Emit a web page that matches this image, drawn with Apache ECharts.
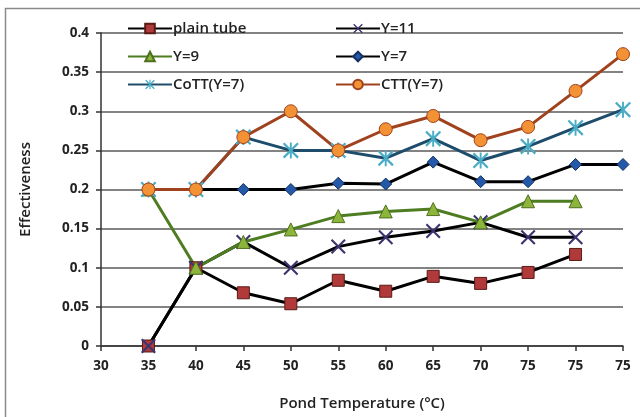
<!DOCTYPE html>
<html><head><meta charset="utf-8">
<script src="https://cdn.jsdelivr.net/npm/echarts@6/dist/echarts.min.js"></script>
<style>html,body{margin:0;padding:0;background:#fff}#c{width:640px;height:417px}</style>
</head><body><div id="c"></div>
<script>
const categories = ['30','35','40','45','50','55','60','65','70','75','75','75'];
const plainTube = [null, 0, 0.1, 0.068, 0.054, 0.084, 0.07, 0.089, 0.08, 0.094, 0.117, null];
const y11 = [null, 0, 0.1, 0.133, 0.1, 0.127, 0.139, 0.147, 0.158, 0.139, 0.139, null];
const y9 = [null, 0.2, 0.1, 0.133, 0.149, 0.166, 0.172, 0.175, 0.158, 0.185, 0.185, null];
const y7 = [null, 0.2, 0.2, 0.2, 0.2, 0.208, 0.207, 0.235, 0.21, 0.21, 0.232, 0.232];
const cott = [null, 0.2, 0.2, 0.267, 0.25, 0.25, 0.24, 0.265, 0.237, 0.255, 0.279, 0.302];
const ctt = [null, 0.2, 0.2, 0.267, 0.3, 0.25, 0.277, 0.294, 0.263, 0.28, 0.326, 0.373];
const yTicks = {min: 0, max: 0.4, interval: 0.05};

const X_PATH = 'path://M0,1L1,0L10,9L9,10ZM9,0L10,1L1,10L0,9Z';
const AST_PATH = 'path://M0,1L1,0L10,9L9,10ZM9,0L10,1L1,10L0,9ZM4.4,0L5.6,0L5.6,10L4.4,10Z';

const font = 'Open Sans, Lato, DejaVu Sans, sans-serif';
function mk(name, data, lineColor, symbol, size, fill, border) {
  return {
    name, type: 'line', data, symbol, symbolSize: size, connectNulls: false,
    lineStyle: {color: lineColor, width: 3},
    itemStyle: {color: fill, borderColor: border, borderWidth: border ? 1 : 0},
    emphasis: {disabled: true}, animation: false
  };
}
function lg(name, left, top) {
  return {data: [name], left, top, padding: 0, itemWidth: 44, itemHeight: 12,
    textStyle: {fontFamily: font, fontSize: 15, fontWeight: 600, color: '#222', padding: [0,0,0,-4]},
    selectedMode: false};
}
const chart = echarts.init(document.getElementById('c'));
chart.setOption({
  backgroundColor: '#fff',
  animation: false,
  graphic: [{type: 'rect', shape: {x: 5.5, y: 8.5, width: 700, height: 500},
    style: {fill: 'none', stroke: '#8a8a8a', lineWidth: 1.5}, silent: true, z: -1}],
  legend: [
    lg('plain tube', 127, 21), lg('Y=11', 335, 21),
    lg('Y=9', 127, 49), lg('Y=7', 335, 49),
    lg('CoTT(Y=7)', 127, 77), lg('CTT(Y=7)', 335, 77)
  ],
  grid: {left: 101, right: 17, top: 33, bottom: 71, containLabel: false},
  xAxis: {
    type: 'category', data: categories, boundaryGap: false,
    name: 'Pond Temperature (°C)', nameLocation: 'middle', nameGap: 50,
    nameTextStyle: {fontFamily: font, fontSize: 15, fontWeight: 600, color: '#222'},
    axisLine: {lineStyle: {color: '#333', width: 1.5}},
    axisTick: {show: true, length: 5, alignWithLabel: true, lineStyle: {color: '#333', width: 1.5}},
    axisLabel: {fontFamily: font, fontSize: 13.5, fontWeight: 700, color: '#222', margin: 13, interval: 0},
    splitLine: {show: false}
  },
  yAxis: {
    type: 'value', min: yTicks.min, max: yTicks.max, interval: yTicks.interval,
    name: 'Effectiveness', nameLocation: 'middle', nameGap: 68,
    nameTextStyle: {fontFamily: font, fontSize: 15, fontWeight: 600, color: '#222'},
    axisLine: {show: true, lineStyle: {color: '#333', width: 1.5}},
    axisTick: {show: true, length: 5, lineStyle: {color: '#333', width: 1.5}},
    axisLabel: {fontFamily: font, fontSize: 13.5, fontWeight: 700, color: '#222', margin: 12},
    splitLine: {show: true, lineStyle: {color: '#5a5a5a', width: 1.5}}
  },
  series: [
    mk('plain tube', plainTube, '#000', 'rect', 12, '#B0393A', '#5a1a16'),
    mk('Y=11', y11, '#000', X_PATH, 15, '#3b3470', null),
    mk('Y=9', y9, '#4E7D21', 'triangle', 13, '#8DB53C', '#4E6F20'),
    mk('Y=7', y7, '#000', 'diamond', 12, '#2458A8', '#14305e'),
    mk('CoTT(Y=7)', cott, '#1E4D6B', AST_PATH, 16, '#4BACC6', null),
    mk('CTT(Y=7)', ctt, '#A0421E', 'circle', 13, '#F29234', '#A0421E')
  ]
});
</script></body></html>
